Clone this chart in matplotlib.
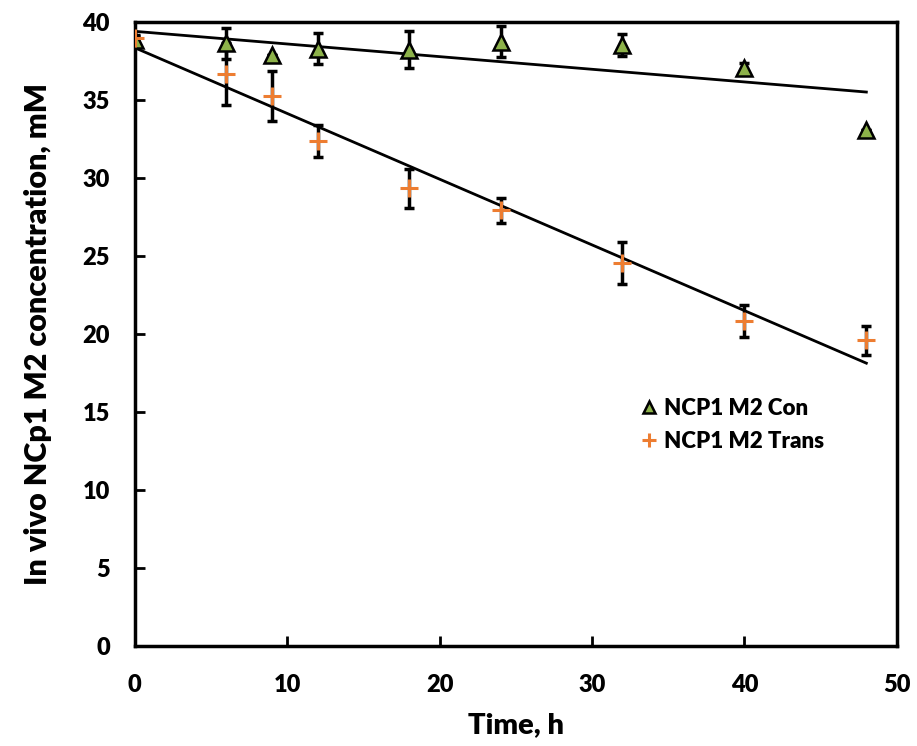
import matplotlib
matplotlib.use("Agg")
import matplotlib.pyplot as plt
import numpy as np

plt.rcParams['font.family'] = ['Lato', 'DejaVu Sans']
plt.rcParams['font.weight'] = 'bold'

# time points, h
time_h = [0, 6, 9, 12, 18, 24, 32, 40, 48]

# NCP1 M2 Con
con_mean = [38.9, 38.65, 37.9, 38.3, 38.25, 38.75, 38.55, 37.1, 33.1]
con_err = [0.2, 1.0, 0.0, 1.0, 1.2, 1.0, 0.7, 0.3, 0.0]

# NCP1 M2 Trans
trans_mean = [39.0, 36.7, 35.3, 32.4, 29.35, 27.95, 24.55, 20.85, 19.6]
trans_err = [0.2, 2.0, 1.6, 1.05, 1.25, 0.8, 1.35, 1.0, 0.95]

x = np.array(time_h)

fig = plt.figure(figsize=(9.17, 7.46), dpi=100)
ax = fig.add_axes([0.147, 0.134, 0.831, 0.836])

# linear trend lines
for ys in (con_mean, trans_mean):
    k, b = np.polyfit(x, ys, 1)
    ax.plot(x, k * x + b, color='black', lw=2, zorder=2)

ax.errorbar(x, con_mean, yerr=con_err, fmt='none', ecolor='black',
            elinewidth=2.5, capsize=3.5, capthick=2.5, zorder=3)
ax.errorbar(x, trans_mean, yerr=trans_err, fmt='none', ecolor='black',
            elinewidth=2.5, capsize=3.5, capthick=2.5, zorder=3)

ax.plot(x, con_mean, ls='none', marker='^', ms=11, mfc='#8db24a',
        mec='black', mew=1.8, zorder=4, label='NCP1 M2 Con')
ax.plot(x, trans_mean, ls='none', marker='+', ms=13, mec='#ed7d31',
        mew=2.2, zorder=5, label='NCP1 M2 Trans')

ax.set_xlim(0, 50)
ax.set_ylim(0, 40)
ax.set_xticks(range(0, 51, 10))
ax.set_yticks(range(0, 41, 5))
ax.tick_params(direction='in', length=7, width=2, labelsize=17)
ax.tick_params(axis='x', pad=20)
ax.tick_params(axis='y', pad=18)
for s in ax.spines.values():
    s.set_linewidth(2.5)

ax.set_xlabel('Time, h', fontsize=21, fontweight='heavy', labelpad=12)
ax.set_ylabel('In vivo NCp1 M2 concentration, mM', fontsize=22,
              fontweight='heavy', labelpad=22)
for t in ax.get_xticklabels() + ax.get_yticklabels():
    t.set_fontweight('heavy')

leg = ax.legend(loc='upper left', bbox_to_anchor=(0.64, 0.43), frameon=False,
                handlelength=0.6, handletextpad=0.35,
                labelspacing=0.55, markerscale=0.75,
                prop={'size': 16, 'weight': 'heavy'})

fig.savefig('out.png', dpi=100)
